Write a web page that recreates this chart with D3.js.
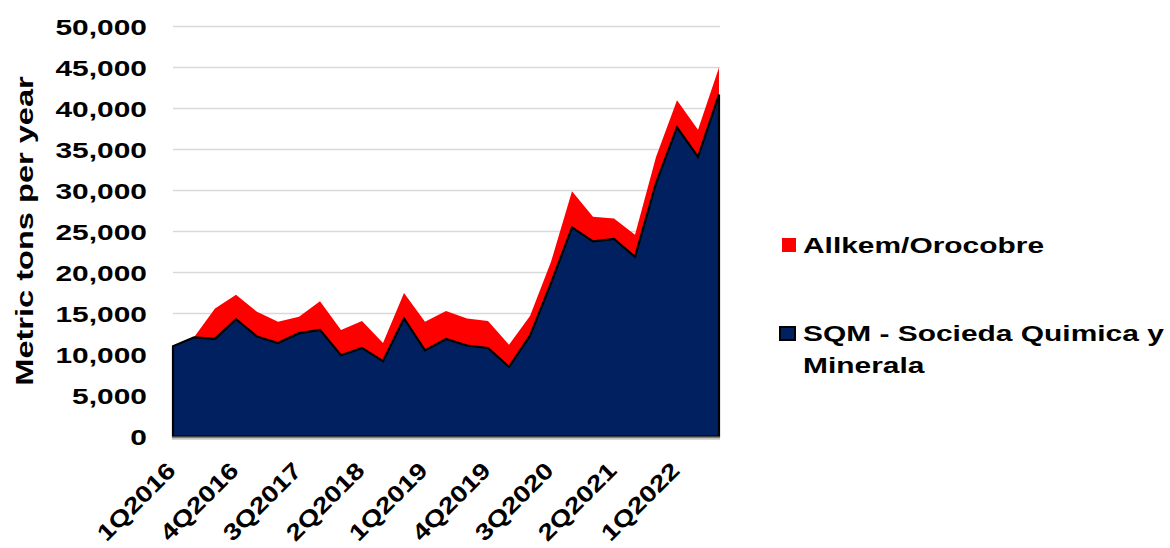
<!DOCTYPE html>
<html>
<head>
<meta charset="utf-8">
<script src="https://cdn.jsdelivr.net/npm/d3@7"></script>
<style>
  html, body { margin: 0; padding: 0; background: #fff; }
  svg { display: block; }
  text { font-family: "Liberation Sans", Arial, sans-serif; font-weight: bold; fill: #000; }
</style>
</head>
<body>
<svg id="chart" width="1170" height="548"></svg>
<script>
// ---- data ----
const quarters = ["1Q2016","2Q2016","3Q2016","4Q2016","1Q2017","2Q2017","3Q2017","4Q2017",
                  "1Q2018","2Q2018","3Q2018","4Q2018","1Q2019","2Q2019","3Q2019","4Q2019",
                  "1Q2020","2Q2020","3Q2020","4Q2020","1Q2021","2Q2021","3Q2021","4Q2021",
                  "1Q2022","2Q2022","3Q2022"];
const sqm    = [11000,12100,11900,14300,12200,11400,12600,13000,9900,10800,9200,14400,10500,11900,
                11100,10800,8500,12300,18700,25500,23800,24100,21900,30900,37700,34100,41700];
const allkem = [0,0,3700,3000,3000,2600,2000,3500,3100,3300,2200,3100,3500,3400,
                3300,3300,2700,2400,2600,4400,3000,2500,2700,3200,3300,3300,3300];
const seriesNames = ["SQM - Socieda Quimica y Minerala", "Allkem/Orocobre"];
const yTicks = [0,5000,10000,15000,20000,25000,30000,35000,40000,45000,50000];
const labelEvery = 3;

// ---- layout ----
const svg = d3.select("#chart");
const x0 = 173, x1 = 719, yBot = 436.5, yTop = 26.5;
const SX = 1.33;

const x = d3.scalePoint().domain(quarters).range([x0, x1]);
const y = d3.scaleLinear().domain([0, 50000]).range([yBot, yTop]);

const table = quarters.map((q, i) => ({ q, sqm: sqm[i], allkem: allkem[i] }));
const stacked = d3.stack().keys(["sqm", "allkem"])(table);

// gridlines
svg.append("g").selectAll("line").data(yTicks.filter(d => d > 0)).join("line")
  .attr("x1", x0).attr("x2", x1 + 1)
  .attr("y1", d => y(d)).attr("y2", d => y(d))
  .attr("stroke", "#d9d9d9").attr("stroke-width", 1.5);

// y tick labels
svg.append("g").selectAll("text").data(yTicks).join("text")
  .attr("transform", d => `translate(147,${y(d)}) scale(${SX},1)`)
  .attr("text-anchor", "end").attr("dy", "0.36em")
  .style("font-size", "22.5px")
  .text(d => d3.format(",")(d));

// y title
svg.append("text")
  .attr("transform", `translate(33,231) rotate(-90) scale(${SX},1)`)
  .attr("text-anchor", "middle")
  .style("font-size", "24.5px")
  .text("Metric tons per year");

const area = d3.area().x((d, i) => x(quarters[i])).y0(d => y(d[0])).y1(d => y(d[1]));

// red area (Allkem)
svg.append("path").datum(stacked[1]).attr("d", area).attr("fill", "#ff0000");

// SQM area with black border
svg.append("path").datum(stacked[0]).attr("d", area)
  .attr("fill", "#002060").attr("stroke", "#000").attr("stroke-width", 2.2)
  .attr("stroke-linejoin", "miter");

// x axis line
svg.append("line").attr("x1", x0 - 1).attr("x2", x1 + 1).attr("y1", yBot + 1).attr("y2", yBot + 1)
  .attr("stroke", "#7f7f7f").attr("stroke-width", 2);
svg.append("line").attr("x1", x0 - 1).attr("x2", x1 + 1).attr("y1", yBot + 2.7).attr("y2", yBot + 2.7)
  .attr("stroke", "#c8c8c8").attr("stroke-width", 1.2);

// x labels
svg.append("g").selectAll("text").data(quarters.filter((d, i) => i % labelEvery === 0)).join("text")
  .attr("transform", d => `translate(${x(d) + 4},472) rotate(-45) scale(1.22,1)`)
  .attr("text-anchor", "end")
  .style("font-size", "23px")
  .text(d => d);

// legend
const lg = svg.append("g");
lg.append("rect").attr("x", 782).attr("y", 238).attr("width", 14).attr("height", 14).attr("fill", "#ff0000");
lg.append("text").attr("transform", `translate(803,252.5) scale(${SX},1)`).style("font-size", "22.5px").text(seriesNames[1]);
lg.append("rect").attr("x", 780).attr("y", 327).attr("width", 15).attr("height", 13)
  .attr("fill", "#002060").attr("stroke", "#000").attr("stroke-width", 2);
lg.append("text").attr("transform", `translate(803,340.5) scale(${SX},1)`).style("font-size", "22.5px").text("SQM - Socieda Quimica y");
lg.append("text").attr("transform", `translate(803,373) scale(${SX},1)`).style("font-size", "22.5px").text("Minerala");
</script>
</body>
</html>
